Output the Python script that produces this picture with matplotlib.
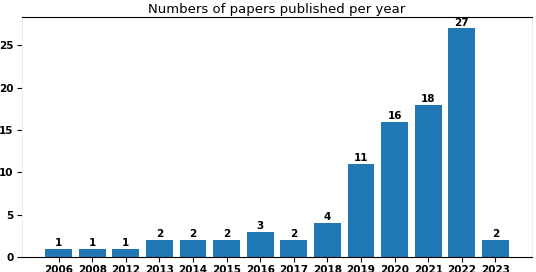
import matplotlib
matplotlib.use("Agg")
import matplotlib.pyplot as plt

# papers per year
years = ["2006", "2008", "2012", "2013", "2014", "2015", "2016",
         "2017", "2018", "2019", "2020", "2021", "2022", "2023"]
counts = [1, 1, 1, 2, 2, 2, 3, 2, 4, 11, 16, 18, 27, 2]

fig = plt.figure(figsize=(5.36, 2.72), dpi=100)
ax = fig.add_axes([22 / 536, 15 / 272, 510 / 536, 240 / 272])

bars = ax.bar(years, counts, color="#1f77b4", width=0.8)
for b, c in zip(bars, counts):
    ax.text(b.get_x() + b.get_width() / 2, c + 0.1, str(c), ha="center", va="bottom",
            fontsize=7.5, fontweight="bold")

ax.set_title("Numbers of papers published per year", fontsize=9.5, pad=3)
ax.set_yticks([0, 5, 10, 15, 20, 25])
ax.tick_params(labelsize=7.5, length=3.5, pad=2.5)
for lab in ax.get_xticklabels() + ax.get_yticklabels():
    lab.set_fontweight("bold")

for s in ["left", "right"]:
    ax.spines[s].set_color("#eeeeee")
for s in ["top", "bottom"]:
    ax.spines[s].set_color("black")

fig.savefig("out.png", dpi=100)
